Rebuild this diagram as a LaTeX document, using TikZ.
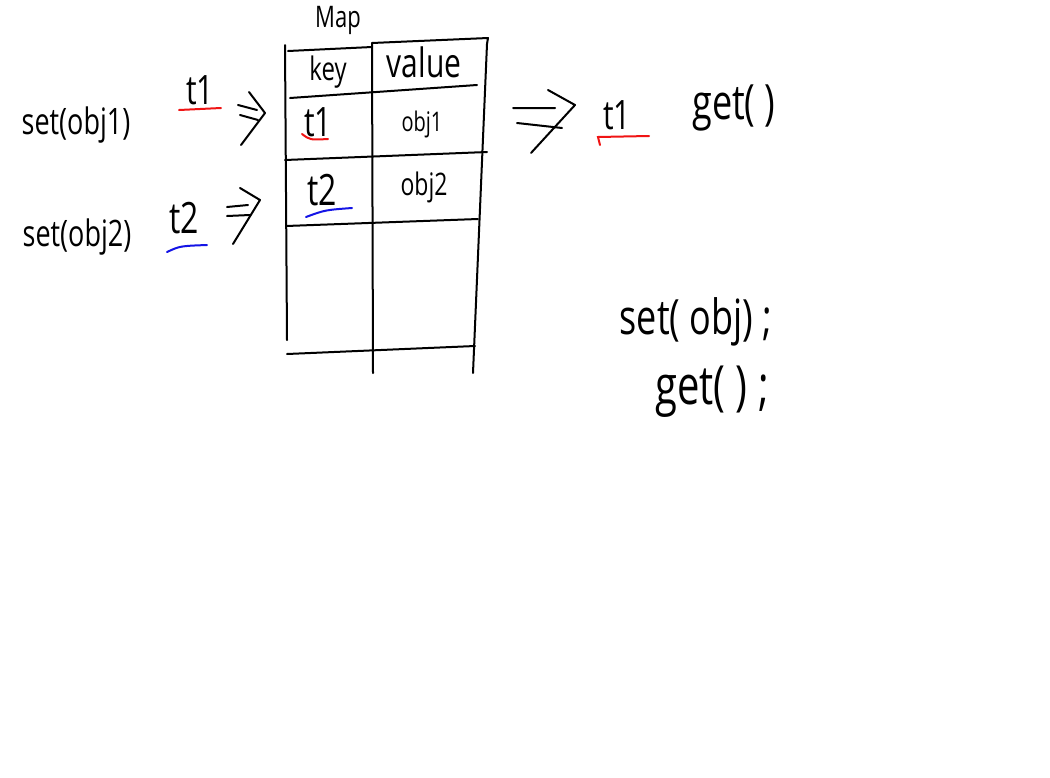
\documentclass[tikz,border=0pt]{standalone}
\usepackage{fontspec}
\setmainfont{Open Sans}
\usepackage{graphicx}
\usepackage{xcolor}
\usepackage{tikz}
\usetikzlibrary{positioning}
\definecolor{inkred}{RGB}{240, 20, 20}
\definecolor{inkblue}{RGB}{20, 20, 230}
\newcommand{\tallink}[1]{\scalebox{1}[1.35]{#1}}

\begin{document}
\begin{tikzpicture}[
    x=1pt, y=-1pt,
    ink/.style={draw=black, line width=2pt, line cap=round, line join=round},
    hand/.style={font=\fontsize{#1}{#1}\selectfont, inner sep=0pt},
    mark1/.style={draw=inkred, line width=2pt, line cap=round},
    mark2/.style={draw=inkblue, line width=2pt, line cap=round}
  ]
  \useasboundingbox[fill=white] (0,0) rectangle (1050,777);

  % Map table
  \node[hand=22] (maplbl) at (338, 20) {\tallink{Map}};
  \draw[ink] (288,51) -- (372,47);
  \draw[ink] (372,43) -- (488,38) -- (487,44);
  \draw[ink] (285,45) -- (287,340);
  \draw[ink] (372,43) -- (373,373);
  \draw[ink] (487,44) -- (473,373);
  \draw[ink] (290,98) -- (477,85);
  \draw[ink] (285,160) -- (487,152);
  \draw[ink] (286,226) -- (478,219);
  \draw[ink] (287,354) -- (475,346);

  % Cells
  \node[hand=24] (keylbl) at (328, 72) {\tallink{key}};
  \node[hand=30] (vallbl) at (424, 62) {\tallink{value}};
  \node[hand=30] (keyone) at (318, 122) {\tallink{t1}};
  \node[hand=20] (valone) at (422, 124) {\tallink{obj1}};
  \node[hand=32] (keytwo) at (322, 190) {\tallink{t2}};
  \node[hand=23] (valtwo) at (424, 187) {\tallink{obj2}};
  \draw[mark1] (302,134) .. controls (310,140) .. (328,139);
  \draw[mark2] (306,217) .. controls (325,210) .. (352,208);

  % Left side calls
  \node[hand=27] (setone) at (76, 125) {\tallink{set(obj1)}};
  \node[hand=30] (tone) at (200, 90) {\tallink{t1}};
  \draw[mark1] (179,110) -- (221,108);
  \node[hand=27] (settwo) at (77, 237) {\tallink{set(obj2)}};
  \node[hand=32] (ttwo) at (184, 218) {\tallink{t2}};
  \draw[mark2] (167,252) .. controls (180,246) .. (207,245);

  % Double arrows
  \draw[ink] (238,105) -- (257,110) (240,115) -- (258,120);
  \draw[ink] (249,92) -- (265,113) -- (241,145);
  \draw[ink] (227,207) -- (248,205) (227,216) -- (250,215);
  \draw[ink] (240,188) -- (260,200) -- (233,244);
  \draw[ink] (513,108) -- (555,108) (517,123) -- (562,128);
  \draw[ink] (548,90) -- (575,105) -- (531,153);

  % Right side
  \node[hand=30] (tget) at (617, 115) {\tallink{t1}};
  \draw[mark1] (600,145) -- (598,137) -- (649,136);
  \node[hand=36] (getcall) at (734, 108) {\tallink{get( )}};
  \node[hand=36] (setapi) at (696, 322) {\tallink{set( obj) ;}};
  \node[hand=40] (getapi) at (712, 392) {\tallink{get( ) ;}};

\end{tikzpicture}
\end{document}
